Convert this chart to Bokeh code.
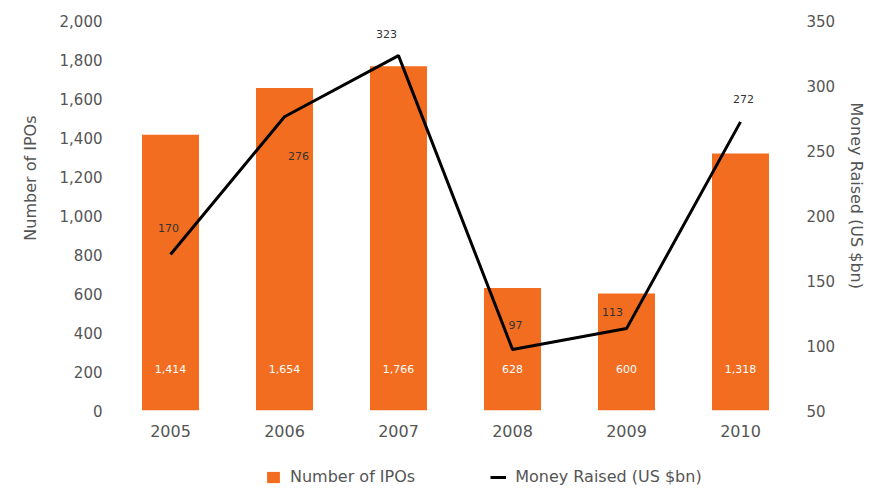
from bokeh.plotting import figure
from bokeh.layouts import column
from bokeh.models import (ColumnDataSource, Range1d, LinearAxis, FixedTicker,
                          NumeralTickFormatter, Legend, LegendItem, Title)
from bokeh.embed import file_html
from bokeh.resources import INLINE
from bokeh.core.properties import value

# ---- data ----
years = ["2005", "2006", "2007", "2008", "2009", "2010"]
ipo_counts = [1414, 1654, 1766, 628, 600, 1318]
ipo_labels = ["1,414", "1,654", "1,766", "628", "600", "1,318"]
money_raised = [170, 276, 323, 97, 113, 272]
money_labels = ["170", "276", "323", "97", "113", "272"]
left_ticks = [0, 200, 400, 600, 800, 1000, 1200, 1400, 1600, 1800, 2000]
right_ticks = [50, 100, 150, 200, 250, 300, 350]

# ---- styles ----
FONT = "DejaVu Sans"
ORANGE = "#F26D1F"
GREY = "#555555"
label_dx = [-2, 14, -12, 3, -14, 3]
label_dy = [-27, 39, -22, -24, -17, -23]

src = ColumnDataSource(dict(year=years, ipos=ipo_counts, ipo_label=ipo_labels,
                            money=money_raised, money_label=money_labels,
                            dx=label_dx, dy=label_dy))

p = figure(x_range=years, y_range=Range1d(0, 2000), width=875, height=448,
           output_backend="svg", toolbar_location=None,
           min_border_left=113, min_border_right=78, min_border_top=20,
           min_border_bottom=38)
p.extra_y_ranges = {"money": Range1d(50, 350)}
p.outline_line_color = None
p.xgrid.grid_line_color = None
p.ygrid.grid_line_color = None

bars = p.vbar(x="year", top="ipos", width=0.5, source=src,
              fill_color=ORANGE, line_color=None)
line = p.line(x="year", y="money", y_range_name="money", source=src,
              line_color="black", line_width=3)

p.text(x="year", y=0, text="ipo_label", source=src, y_offset=-42,
       text_color="white", text_align="center", text_baseline="middle",
       text_font=value(FONT), text_font_size="11px")
p.text(x="year", y="money", text="money_label", source=src,
       y_range_name="money", x_offset="dx", y_offset="dy",
       text_color="#333333", text_align="center", text_baseline="middle",
       text_font=value(FONT), text_font_size="11px")

def style_axis(ax, size="15px"):
    ax.axis_line_color = None
    ax.major_tick_line_color = None
    ax.minor_tick_line_color = None
    ax.major_label_text_font = FONT
    ax.major_label_text_font_size = size
    ax.major_label_text_color = GREY

# left axis
ya = p.yaxis[0]
ya.ticker = FixedTicker(ticks=left_ticks)
ya.formatter = NumeralTickFormatter(format="0,0")
ya.major_label_standoff = 5
style_axis(ya)

# right axis
ra = LinearAxis(y_range_name="money", ticker=FixedTicker(ticks=right_ticks))
style_axis(ra)
ra.major_label_standoff = 3
p.add_layout(ra, "right")

# x axis
xa = p.xaxis[0]
style_axis(xa, "16px")
xa.major_label_standoff = 8

# axis titles
p.add_layout(Title(text="Number of IPOs", align="right", offset=95, standoff=34,
                   text_font=FONT, text_font_size="16px", text_font_style="normal",
                   text_color=GREY), "left")
p.add_layout(Title(text="Money Raised (US $bn)", align="left", offset=82, standoff=16,
                   text_font=FONT, text_font_size="16px", text_font_style="normal",
                   text_color=GREY), "right")

# legend strip below the chart (its frame is aligned with the chart frame)
lg = figure(width=875, height=40, output_backend="svg", toolbar_location=None,
            x_range=Range1d(0, 1), y_range=Range1d(0, 1), min_border=0)
lg.axis.visible = False
lg.grid.visible = False
lg.outline_line_color = None
lr1 = lg.vbar(x=[9], top=[9], bottom=[8], width=0.5, fill_color=ORANGE, line_color=None)
lr2 = lg.line(x=[8, 9], y=[8, 9], line_color="black", line_width=3)
leg = Legend(items=[LegendItem(label="Number of IPOs", renderers=[lr1]),
                    LegendItem(label="Money Raised (US $bn)", renderers=[lr2])],
             location=(152, 2), orientation="horizontal", spacing=75,
             background_fill_alpha=0, border_line_color=None,
             padding=0, margin=0, glyph_width=16, glyph_height=14, label_height=16,
             label_standoff=9, label_text_font=FONT, label_text_font_size="16px",
             label_text_color=GREY)
lg.add_layout(leg)

open("out.html", "w").write(file_html(column(p, lg, spacing=0), INLINE))
